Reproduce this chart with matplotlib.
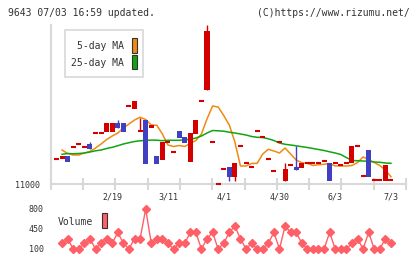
import matplotlib.pyplot as plt
from matplotlib.patches import Rectangle

# candle data (index 0..60), prices in yen
opens = [11250, 11250, 11280, 11370, 11400, 11370, 11400, 11510, 11510, 11520,
         11520, 11610, 11610, 11780, 11750, 11530, 11640, 11560, 11280, 11240,
         11420, 11320, 11530, 11470, 11220, 11500, 11830, 11940, 11420, 11000,
         11150, 11170, 11070, 11380, 11210, 11170, 11530, 11470, 11250, 11130,
         11420, 11030, 11190, 11170, 11160, 11210, 11210, 11210, 11230, 11210,
         11210, 11190, 11210, 11210, 11380, 11080, 11340, 11040, 11040, 11030,
         11040]
closes = [11250, 11280, 11220, 11370, 11400, 11370, 11350, 11510, 11510, 11610,
          11610, 11560, 11520, 11780, 11830, 11530, 11200, 11590, 11200, 11420,
          11420, 11320, 11460, 11410, 11510, 11640, 11830, 12530, 11420, 11000,
          11150, 11070, 11210, 11380, 11210, 11170, 11530, 11470, 11250, 11130,
          11420, 11150, 11190, 11140, 11210, 11210, 11210, 11210, 11230, 11030,
          11210, 11190, 11210, 11380, 11380, 11080, 11070, 11040, 11040, 11190,
          11040]
# only days where a shadow is visible
highs = {6: 11420, 11: 11640, 15: 11660, 27: 12590, 41: 11210, 43: 11380}
lows = {31: 11030, 32: 11030}

ma5 = [11340, 11305, 11290, 11290, 11310, 11325, 11360, 11400, 11445, 11480,
       11510, 11560, 11600, 11640, 11667, 11645, 11590, 11587, 11500, 11390,
       11375, 11385, 11375, 11405, 11435, 11500, 11650, 11780, 11770, 11685,
       11590, 11420, 11180, 11180, 11205, 11207, 11300, 11347, 11330, 11310,
       11360, 11300, 11240, 11213, 11207, 11185, 11193, 11197, 11205, 11180,
       11180, 11180, 11185, 11215, 11270, 11245, 11215, 11185, 11140, 11073]
ma25 = [11297, 11305, 11302, 11305, 11310, 11320, 11332, 11340, 11355, 11367,
        11383, 11400, 11413, 11425, 11432, 11436, 11439, 11438, 11433, 11437,
        11437, 11437, 11442, 11447, 11460, 11480, 11510, 11535, 11532, 11528,
        11518, 11510, 11500, 11490, 11475, 11467, 11465, 11452, 11435, 11410,
        11397, 11390, 11382, 11373, 11365, 11355, 11345, 11335, 11322, 11310,
        11295, 11265, 11235, 11233, 11230, 11227, 11220, 11217, 11210, 11207]

volume = [200, 280, 100, 100, 200, 280, 100, 200, 280, 200,
          390, 200, 100, 280, 280, 800, 200, 280, 280, 200,
          100, 200, 200, 390, 390, 100, 280, 390, 100, 200,
          390, 500, 280, 100, 200, 100, 100, 200, 390, 100,
          500, 390, 390, 200, 100, 100, 100, 100, 390, 100,
          100, 100, 200, 280, 100, 390, 100, 100, 280, 200]

date_pos = [10, 20, 30, 40, 50, 60]
date_labels = ['2/19', '3/11', '4/1', '4/30', '6/3', '7/3']
vol_ticks = [100, 450, 800]

RED = '#d40000'
BLUE = '#4040c0'
ORANGE = '#f08a10'
GREEN = '#10a510'
VOLC = '#ff5f66'
GRID = '#d8d8d8'
TXT = '#333333'
MONO = 'DejaVu Sans Mono'

W, H = 420, 259
fig = plt.figure(figsize=(W / 100, H / 100), dpi=100)


def fx(px):
    return px / W


def fy(py):
    return 1 - py / H


x_lo, x_hi = -1.04, 62.7
ax = fig.add_axes([fx(50.7), fy(184), fx(406) - fx(50.7), fy(25) - fy(184)])
ax.set_xlim(x_lo, x_hi)
ax.set_ylim(11000, 12590)

# moving averages (under the candles)
xs = list(range(1, 61))
ax.plot(xs, ma5, color=ORANGE, lw=1.1, zorder=2)
ax.plot(xs, ma25, color=GREEN, lw=1.1, zorder=2)

# candles
for i in range(len(opens)):
    o, c = opens[i], closes[i]
    col = BLUE if c < o else RED
    if i in highs or i in lows:
        ax.vlines(i, lows.get(i, min(o, c)), highs.get(i, max(o, c)),
                  color=col, lw=1.0, zorder=3)
    if o == c:
        ax.hlines(o, i - 0.45, i + 0.45, color=RED, lw=1.5, zorder=4, clip_on=False)
    else:
        ax.bar(i, abs(c - o), bottom=min(o, c), width=0.9, color=col,
               linewidth=0, zorder=4)

for s in ['top', 'right']:
    ax.spines[s].set_visible(False)
for s in ['left', 'bottom']:
    ax.spines[s].set_color(GRID)
    ax.spines[s].set_linewidth(1.5)
ax.set_xticks([x_lo + k * (x_hi - x_lo) / 11 for k in range(12)])
ax.set_xticklabels([])
ax.tick_params(axis='x', direction='inout', length=8, width=1.5, color=GRID)
ax.set_yticks([11000])
ax.set_yticklabels(['11000'], fontsize=6, family=MONO, color=TXT)
ax.tick_params(axis='y', length=0, pad=8)

for p, lab in zip(date_pos, date_labels):
    ax.annotate(lab, xy=(p, 0), xycoords=('data', 'axes fraction'),
                xytext=(0, -9.5), textcoords='offset points', ha='center',
                va='center', fontsize=6, family=MONO, color=TXT)

# legend box for MAs
fig.patches.append(Rectangle((fx(65), fy(77)), fx(143) - fx(65), fy(30) - fy(77),
                             transform=fig.transFigure, facecolor='white',
                             edgecolor=GRID, lw=1.2, zorder=5))
fig.text(fx(124), fy(46), '5-day MA', ha='right', va='center', fontsize=7,
         family=MONO, color=TXT, zorder=6)
fig.text(fx(124), fy(63), '25-day MA', ha='right', va='center', fontsize=7,
         family=MONO, color=TXT, zorder=6)
for y0, y1, c in [(37.5, 53, ORANGE), (54.5, 69, GREEN)]:
    fig.patches.append(Rectangle((fx(131.7), fy(y1)), fx(137.3) - fx(131.7), fy(y0) - fy(y1),
                                 transform=fig.transFigure, facecolor=c,
                                 edgecolor='#333333', lw=0.8, zorder=6))

# volume panel
vax = fig.add_axes([fx(50.7), fy(253), fx(406) - fx(50.7), fy(205) - fy(253)])
vax.set_xlim(x_lo, x_hi)
vax.set_ylim(30, 870)
vax.plot(xs, volume, color=VOLC, lw=1.0, marker='D', ms=3.6, mec=VOLC, mfc=VOLC)
for s in vax.spines.values():
    s.set_visible(False)
vax.set_xticks([])
vax.set_yticks(vol_ticks)
vax.set_yticklabels([str(v) for v in vol_ticks], fontsize=6, family=MONO, color=TXT)
vax.tick_params(axis='y', length=0, pad=5)
vax.patch.set_alpha(0)

fig.text(fx(58), fy(222), 'Volume', ha='left', va='center', fontsize=7,
         family=MONO, color=TXT)
fig.patches.append(Rectangle((fx(101.7), fy(228.3)), fx(107.3) - fx(101.7), fy(213.3) - fy(228.3),
                             transform=fig.transFigure, facecolor=VOLC,
                             edgecolor='#333333', lw=0.8))

# header
fig.text(fx(8), fy(13), '9643 07/03 16:59 updated.', ha='left', va='center',
         fontsize=7, family=MONO, color=TXT)
fig.text(fx(410), fy(13), '(C)https://www.rizumu.net/', ha='right', va='center',
         fontsize=7, family=MONO, color=TXT)

fig.savefig('out.png', dpi=100)
